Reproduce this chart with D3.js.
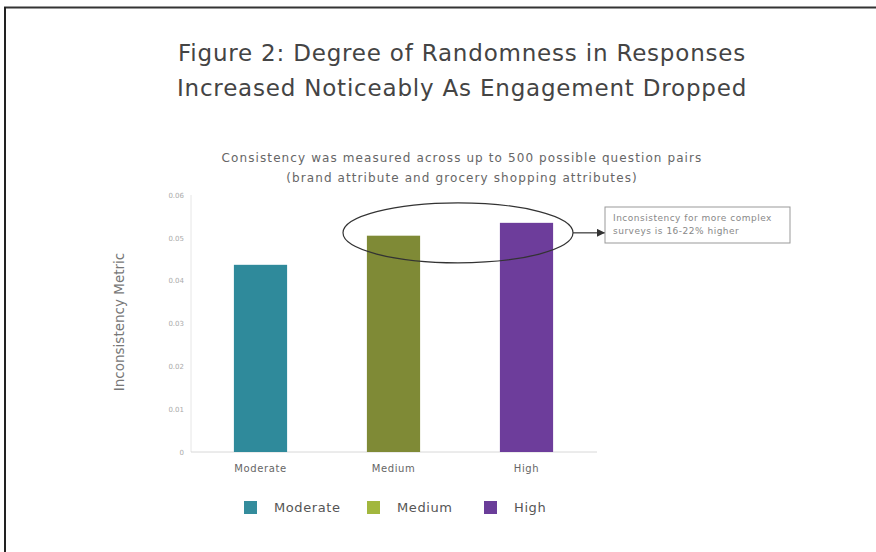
<!DOCTYPE html>
<html>
<head>
<meta charset="utf-8">
<script src="https://cdn.jsdelivr.net/npm/d3@7"></script>
<style>
  body { margin: 0; background: #fff; }
  text { font-family: "DejaVu Sans", sans-serif; }
</style>
</head>
<body>
<script>
var categories = ['Moderate', 'Medium', 'High'];
var values = [0.0437, 0.0505, 0.0535];
var barColors = ['#2f8a9b', '#7f8a36', '#6d3d9b'];
var legendColors = ['#348c9c', '#a2b73e', '#6a3d99'];
var yTicks = [0, 0.01, 0.02, 0.03, 0.04, 0.05, 0.06];
var titleLines = ['Figure 2: Degree of Randomness in Responses', 'Increased Noticeably As Engagement Dropped'];
var subLines = ['Consistency was measured across up to 500 possible question pairs', '(brand attribute and grocery shopping attributes)'];
var noteLines = ['Inconsistency for more complex', 'surveys is 16-22% higher'];

var width = 876, height = 552;

var svg = d3.select('body').append('svg')
    .attr('width', width)
    .attr('height', height);

// frame lines (top and left only)
svg.append('line').attr('x1', 4).attr('x2', width).attr('y1', 7.5).attr('y2', 7.5)
    .attr('stroke', '#333').attr('stroke-width', 2);
svg.append('line').attr('x1', 5).attr('x2', 5).attr('y1', 7).attr('y2', height)
    .attr('stroke', '#222').attr('stroke-width', 2);

// titles
svg.selectAll('.title').data(titleLines).enter().append('text')
    .attr('x', 462).attr('y', function(d, i){ return 61 + i * 35; })
    .attr('text-anchor', 'middle')
    .attr('font-size', 23).attr('letter-spacing', 0.8).attr('fill', '#444')
    .text(function(d){ return d; });

svg.selectAll('.sub').data(subLines).enter().append('text')
    .attr('x', 462).attr('y', function(d, i){ return 162 + i * 20; })
    .attr('text-anchor', 'middle')
    .attr('font-size', 12).attr('letter-spacing', 1.1).attr('fill', '#666')
    .text(function(d){ return d; });

var x = d3.scaleBand().domain(categories).range([194, 593]).paddingInner(0.6).paddingOuter(0.3);
var y = d3.scaleLinear().domain([0, 0.06]).range([452, 195]);

// axes lines
svg.append('line').attr('x1', 191).attr('x2', 191).attr('y1', y(0.06)).attr('y2', y(0))
    .attr('stroke', '#e6e6e6');
svg.append('line').attr('x1', 191).attr('x2', 597).attr('y1', y(0)).attr('y2', y(0))
    .attr('stroke', '#d8d8d8');

var yAxis = d3.axisLeft(y).tickValues(yTicks).tickSize(0).tickPadding(5)
    .tickFormat(function(d){ return d === 0 ? '0' : d3.format('.2f')(d); });
var gy = svg.append('g').attr('transform', 'translate(189,0)').call(yAxis);
gy.select('.domain').remove();
gy.selectAll('text').attr('font-size', 7).attr('fill', '#aaa').attr('font-family', '"DejaVu Sans", sans-serif');

var xAxis = d3.axisBottom(x).tickSize(0).tickPadding(13);
var gx = svg.append('g').attr('transform', 'translate(0,' + y(0) + ')').call(xAxis);
gx.select('.domain').remove();
gx.selectAll('text').attr('font-size', 10).attr('letter-spacing', 0.6).attr('fill', '#666')
    .attr('font-family', '"DejaVu Sans", sans-serif');

svg.append('text')
    .attr('transform', 'translate(124,322) rotate(-90)')
    .attr('text-anchor', 'middle')
    .attr('font-size', 13.5).attr('fill', '#777')
    .text('Inconsistency Metric');

// bars
svg.selectAll('.bar').data(values).enter().append('rect')
    .attr('x', function(d, i){ return x(categories[i]); })
    .attr('y', function(d){ return y(d); })
    .attr('width', x.bandwidth())
    .attr('height', function(d){ return y(0) - y(d); })
    .attr('fill', function(d, i){ return barColors[i]; });

// annotation ellipse around Medium and High
var cx = (x('Medium') + x('High') + x.bandwidth()) / 2 - 2;
var cy = y(values[2]) + 10;
var rx = 115, ry = 30;
svg.append('ellipse').attr('cx', cx).attr('cy', cy).attr('rx', rx).attr('ry', ry)
    .attr('fill', 'none').attr('stroke', '#333').attr('stroke-width', 1.2);

svg.append('defs').append('marker')
    .attr('id', 'arr').attr('viewBox', '0 0 10 10').attr('refX', 10).attr('refY', 5)
    .attr('markerWidth', 7).attr('markerHeight', 7).attr('orient', 'auto')
    .append('path').attr('d', 'M0,0L10,5L0,10z').attr('fill', '#333');
svg.append('line').attr('x1', cx + rx).attr('x2', 605).attr('y1', cy).attr('y2', cy)
    .attr('stroke', '#333').attr('stroke-width', 1.2).attr('marker-end', 'url(#arr)');

svg.append('rect').attr('x', 605).attr('y', 207).attr('width', 185).attr('height', 36)
    .attr('fill', '#fff').attr('stroke', '#999').attr('stroke-width', 1);
svg.selectAll('.note').data(noteLines).enter().append('text')
    .attr('x', 613).attr('y', function(d, i){ return 221 + i * 12.5; })
    .attr('font-size', 9).attr('letter-spacing', 0.5).attr('fill', '#888')
    .text(function(d){ return d; });

// legend
var legendX = [244, 367, 484];
var lg = svg.selectAll('.lg').data(categories).enter().append('g')
    .attr('transform', function(d, i){ return 'translate(' + legendX[i] + ',501)'; });
lg.append('rect').attr('width', 13).attr('height', 13)
    .attr('fill', function(d, i){ return legendColors[i]; });
lg.append('text').attr('x', 30).attr('y', 11)
    .attr('font-size', 13).attr('letter-spacing', 0.6).attr('fill', '#555')
    .text(function(d){ return d; });
</script>
</body>
</html>
